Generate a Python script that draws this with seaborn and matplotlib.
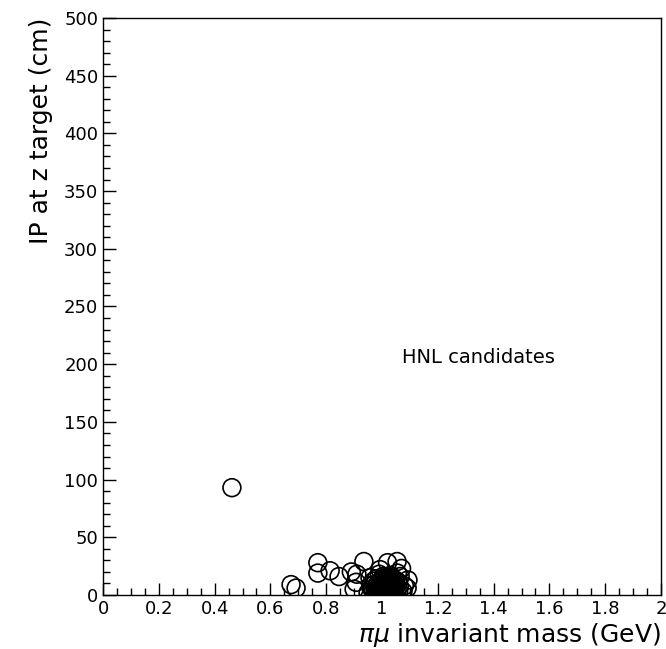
import matplotlib
matplotlib.use("Agg")
import matplotlib.pyplot as plt
from matplotlib.ticker import MultipleLocator, FuncFormatter
import seaborn as sns
import pandas as pd

# HNL candidate points
mass_gev = [0.462, 0.674, 0.692, 0.770, 0.770, 0.814, 0.846, 0.890, 0.910, 0.935,
            0.907, 0.900, 0.957, 0.993, 1.020, 1.054, 1.070, 1.093, 1.090, 0.960,
            0.975, 0.985, 0.995, 1.000, 1.005, 1.010, 1.015, 1.020, 1.025, 1.030,
            1.035, 1.040, 1.045, 1.050, 1.060, 1.065, 0.970, 0.990, 1.000, 1.008,
            1.012, 1.018, 1.022, 1.028, 1.033, 1.038, 1.003, 0.998, 1.013, 1.025,
            0.980, 1.045, 1.055, 1.075, 0.950, 1.080, 1.010, 1.030, 0.992, 1.017,
            0.965, 0.972, 0.982, 0.988, 0.996, 1.002, 1.006, 1.011, 1.016, 1.021,
            1.026, 1.031, 1.036, 1.042, 1.048, 1.052, 1.058, 0.978, 0.994, 1.009,
            1.014, 1.019, 1.024, 1.029, 1.034, 1.039, 1.044, 1.004, 0.999, 1.027,
            0.984, 1.001, 1.023, 1.047, 1.062, 0.968, 1.015, 1.037, 0.990, 1.008]
ip_cm = [93, 9, 6, 28, 19, 21, 16, 20, 18, 29,
         11, 5, 15, 22, 28, 29, 23, 13, 6, 8,
         4, 10, 6, 3, 8, 1, 5, 9, 2, 6,
         3, 7, 2, 10, 4, 16, 12, 2, 13, 4,
         7, 2, 11, 4, 1, 12, 6, 9, 3, 7,
         14, 5, 19, 3, 2, 8, 15, 17, 1, 10,
         5, 9, 3, 7, 11, 2, 6, 10, 4, 8,
         12, 3, 9, 5, 7, 2, 11, 1, 5, 14,
         8, 5, 15, 10, 6, 3, 9, 16, 7, 1,
         6, 12, 4, 13, 8, 3, 11, 14, 18, 1]

x_ticks = [0, 0.2, 0.4, 0.6, 0.8, 1, 1.2, 1.4, 1.6, 1.8, 2]

df = pd.DataFrame({"mass": mass_gev, "ip": ip_cm})

plt.rcParams["font.family"] = ["DejaVu Sans"]
fig = plt.figure(figsize=(6.66, 6.49), dpi=100)
ax = fig.add_axes([0.1547, 0.0832, 0.9925 - 0.1547, 0.9723 - 0.0832])

sns.scatterplot(data=df, x="mass", y="ip", ax=ax, s=165, marker="o",
                facecolors="none", edgecolor="black", linewidth=1.2)

ax.set_xlim(0, 2)
ax.set_ylim(0, 500)
ax.set_xticks(x_ticks)
ax.xaxis.set_minor_locator(MultipleLocator(0.05))
ax.yaxis.set_major_locator(MultipleLocator(50))
ax.yaxis.set_minor_locator(MultipleLocator(10))
ax.xaxis.set_major_formatter(FuncFormatter(lambda v, p: f"{v:g}"))
ax.tick_params(which="both", direction="in", top=False, right=False, width=1)
ax.tick_params(which="major", length=9, labelsize=13)
ax.tick_params(which="minor", length=5)
for s in ax.spines.values():
    s.set_linewidth(1)

ax.set_xlabel(r"$\pi\mu$ invariant mass (GeV)", fontsize=18, loc="right", labelpad=2)
ax.set_ylabel("IP at z target (cm)", fontsize=18, loc="top", labelpad=8)
ax.text(1.344, 206, "HNL candidates", fontsize=14, ha="center", va="center")

fig.savefig("out.png", dpi=100)
